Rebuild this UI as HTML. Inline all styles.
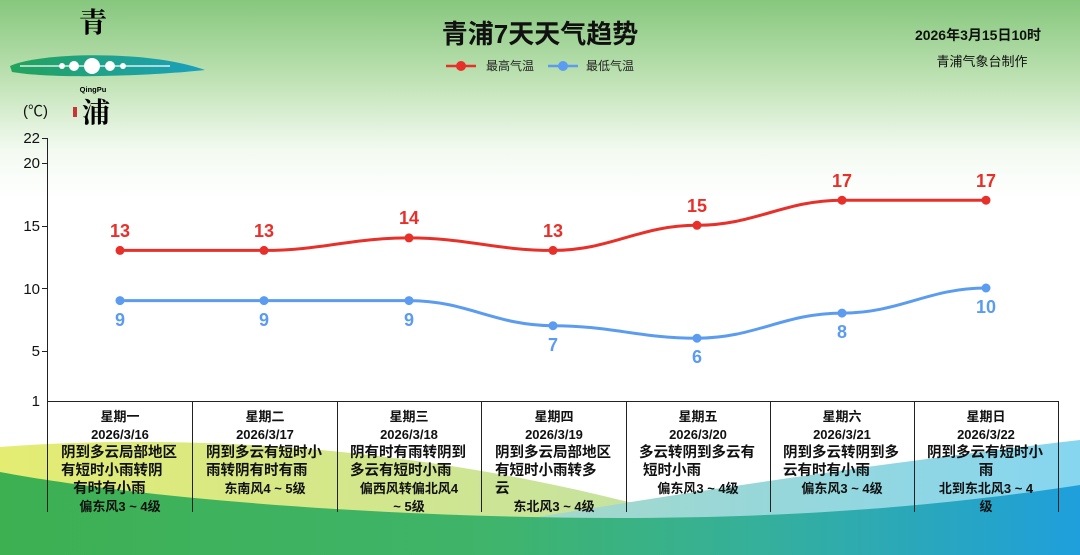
<!DOCTYPE html>
<html><head><meta charset="utf-8"><style>
body{margin:0}
#c{position:relative;width:1080px;height:555px;overflow:hidden;font-family:"Liberation Sans","Noto Sans CJK SC",sans-serif;background:linear-gradient(#86c77d 0px,#bfe2b4 80px,#f3faf1 150px,#fff 200px)}
.cell{position:absolute;top:408px;width:144px;text-align:center;color:#111;font-weight:bold}
.cell .h{font-size:13px;line-height:18px}
.cell .d{width:128px;margin:0 auto;padding-left:10px;text-align:left;font-size:14.5px;line-height:18px;font-weight:bold}
.cell .w{font-size:13px;line-height:18px;padding:0 10px}
</style></head><body><div id="c">
<svg width="1080" height="555" style="position:absolute;left:0;top:0">
<defs>
<linearGradient id="g1" x1="0" x2="1"><stop offset="0" stop-color="#e4ec72"/><stop offset="0.6" stop-color="#c5e2a0"/><stop offset="1" stop-color="#b0dcc0"/></linearGradient>
<linearGradient id="g2" x1="0" x2="1"><stop offset="0" stop-color="#3db052"/><stop offset="0.45" stop-color="#3fb46a"/><stop offset="0.7" stop-color="#35b09a"/><stop offset="1" stop-color="#1f9fdc"/></linearGradient>
<linearGradient id="g3" x1="0" x2="1"><stop offset="0" stop-color="#a5d8c8"/><stop offset="1" stop-color="#86d6f0"/></linearGradient>
<linearGradient id="lg" x1="0" x2="1"><stop offset="0" stop-color="#23a35a"/><stop offset="1" stop-color="#1aa0c0"/></linearGradient>
</defs>
<path d="M0 447 C200 432 420 450 620 500 C800 540 1000 540 1080 540 L1080 555 L0 555Z" fill="url(#g1)"/>
<path d="M520 520 C760 480 950 455 1080 440 L1080 555 L520 555Z" fill="url(#g3)"/>
<path d="M0 472 C150 500 400 518 620 518 C800 518 950 505 1080 485 L1080 555 L0 555Z" fill="url(#g2)"/>
<!-- logo -->
<path d="M10 66 C40 52 150 50 205 70 C160 75 60 80 12 72Z" fill="url(#lg)"/>
<circle cx="92" cy="66" r="8" fill="#fff"/><circle cx="74" cy="66" r="5" fill="#fff"/><circle cx="110" cy="66" r="5" fill="#fff"/><circle cx="62" cy="66" r="3" fill="#fff"/><circle cx="123" cy="66" r="3" fill="#fff"/>
<line x1="20" y1="66" x2="170" y2="66" stroke="#fff" stroke-width="1.2"/>
<text x="93" y="32" font-size="28" text-anchor="middle" font-family="Noto Serif CJK SC,serif" font-weight="bold">青</text>
<text x="93" y="92" font-size="7.5" text-anchor="middle" font-weight="bold">QingPu</text>
<text x="96" y="122" font-size="28" text-anchor="middle" font-family="Noto Serif CJK SC,serif" font-weight="bold">浦</text>
<rect x="73" y="107" width="4" height="10" fill="#c33"/>
<!-- title -->
<text x="540" y="43" font-size="26" font-weight="bold" text-anchor="middle" fill="#111">青浦7天天气趋势</text>
<line x1="446" y1="66" x2="476" y2="66" stroke="#e8302a" stroke-width="2.5"/><circle cx="461" cy="66" r="5" fill="#e8302a"/>
<text x="486" y="70" font-size="12" fill="#222">最高气温</text>
<line x1="548" y1="66" x2="578" y2="66" stroke="#5b9cf0" stroke-width="2.5"/><circle cx="563" cy="66" r="5" fill="#5b9cf0"/>
<text x="586" y="70" font-size="12" fill="#222">最低气温</text>
<text x="978" y="40" font-size="14" font-weight="bold" text-anchor="middle" fill="#111">2026年3月15日10时</text>
<text x="982" y="66" font-size="13" text-anchor="middle" fill="#111">青浦气象台制作</text>
<!-- axis -->
<text x="23" y="116" font-size="15" fill="#111">(℃)</text>
<g stroke="#222" stroke-width="1">
<line x1="47.5" y1="138" x2="47.5" y2="512"/>
<line x1="47" y1="401.5" x2="1058" y2="401.5"/>
<line x1="42" y1="138.5" x2="47" y2="138.5"/><line x1="42" y1="163.5" x2="47" y2="163.5"/><line x1="42" y1="226.5" x2="47" y2="226.5"/><line x1="42" y1="288.5" x2="47" y2="288.5"/><line x1="42" y1="351.5" x2="47" y2="351.5"/>
<line x1="192.5" y1="401" x2="192.5" y2="512"/><line x1="337.5" y1="401" x2="337.5" y2="512"/><line x1="481.5" y1="401" x2="481.5" y2="512"/><line x1="626.5" y1="401" x2="626.5" y2="512"/><line x1="770.5" y1="401" x2="770.5" y2="512"/><line x1="914.5" y1="401" x2="914.5" y2="512"/><line x1="1058.5" y1="401" x2="1058.5" y2="512"/>
</g>
<g font-size="15" fill="#111" text-anchor="end">
<text x="40" y="143">22</text><text x="40" y="168">20</text><text x="40" y="231">15</text><text x="40" y="294">10</text><text x="40" y="356">5</text><text x="40" y="406">1</text>
</g>
<path d="M120 250.4 C178 250.4 206 250.4 264 250.4 C322 250.4 351 237.9 409 237.9 C467 237.9 495 250.4 553 250.4 C611 250.4 639 225.3 697 225.3 C755 225.3 784 200.2 842 200.2 C900 200.2 928 200.2 986 200.2" fill="none" stroke="#e8302a" stroke-width="3"/>
<path d="M120 300.6 C178 300.6 206 300.6 264 300.6 C322 300.6 351 300.6 409 300.6 C467 300.6 495 325.7 553 325.7 C611 325.7 639 338.2 697 338.2 C755 338.2 784 313.1 842 313.1 C900 313.1 928 288 986 288" fill="none" stroke="#5b9cf0" stroke-width="3"/>
<g fill="#e8302a"><circle cx="120" cy="250.4" r="4.5"/><circle cx="264" cy="250.4" r="4.5"/><circle cx="409" cy="237.9" r="4.5"/><circle cx="553" cy="250.4" r="4.5"/><circle cx="697" cy="225.3" r="4.5"/><circle cx="842" cy="200.2" r="4.5"/><circle cx="986" cy="200.2" r="4.5"/></g>
<g fill="#5b9cf0"><circle cx="120" cy="300.6" r="4.5"/><circle cx="264" cy="300.6" r="4.5"/><circle cx="409" cy="300.6" r="4.5"/><circle cx="553" cy="325.7" r="4.5"/><circle cx="697" cy="338.2" r="4.5"/><circle cx="842" cy="313.1" r="4.5"/><circle cx="986" cy="288" r="4.5"/></g>
<g fill="#e8302a" font-size="18" font-weight="bold" text-anchor="middle">
<text x="120" y="237">13</text><text x="264" y="237">13</text><text x="409" y="224">14</text><text x="553" y="237">13</text><text x="697" y="212">15</text><text x="842" y="187">17</text><text x="986" y="187">17</text></g>
<g fill="#5b9cf0" font-size="18" font-weight="bold" text-anchor="middle">
<text x="120" y="326">9</text><text x="264" y="326">9</text><text x="409" y="326">9</text><text x="553" y="351">7</text><text x="697" y="363">6</text><text x="842" y="338">8</text><text x="986" y="313">10</text></g>
</svg>
<div class="cell" style="left:48px"><div class="h">星期一</div><div class="h">2026/3/16</div><div class="d">阴到多云局部地区<br>有短时小雨转阴<br>&nbsp;&nbsp;&nbsp;有时有小雨</div><div class="w">偏东风3 ~ 4级</div></div>
<div class="cell" style="left:193px"><div class="h">星期二</div><div class="h">2026/3/17</div><div class="d">阴到多云有短时小<br>雨转阴有时有雨</div><div class="w">东南风4 ~ 5级</div></div>
<div class="cell" style="left:337px"><div class="h">星期三</div><div class="h">2026/3/18</div><div class="d">阴有时有雨转阴到<br>多云有短时小雨</div><div class="w">偏西风转偏北风4<br>~ 5级</div></div>
<div class="cell" style="left:482px"><div class="h">星期四</div><div class="h">2026/3/19</div><div class="d">阴到多云局部地区<br>有短时小雨转多<br>云</div><div class="w">东北风3 ~ 4级</div></div>
<div class="cell" style="left:626px"><div class="h">星期五</div><div class="h">2026/3/20</div><div class="d">多云转阴到多云有<br>&nbsp;短时小雨</div><div class="w">偏东风3 ~ 4级</div></div>
<div class="cell" style="left:770px"><div class="h">星期六</div><div class="h">2026/3/21</div><div class="d">阴到多云转阴到多<br>云有时有小雨</div><div class="w">偏东风3 ~ 4级</div></div>
<div class="cell" style="left:914px"><div class="h">星期日</div><div class="h">2026/3/22</div><div class="d">阴到多云有短时小<div style="text-align:center;padding-right:10px">雨</div></div><div class="w">北到东北风3 ~ 4<br>级</div></div>
</div></body></html>
